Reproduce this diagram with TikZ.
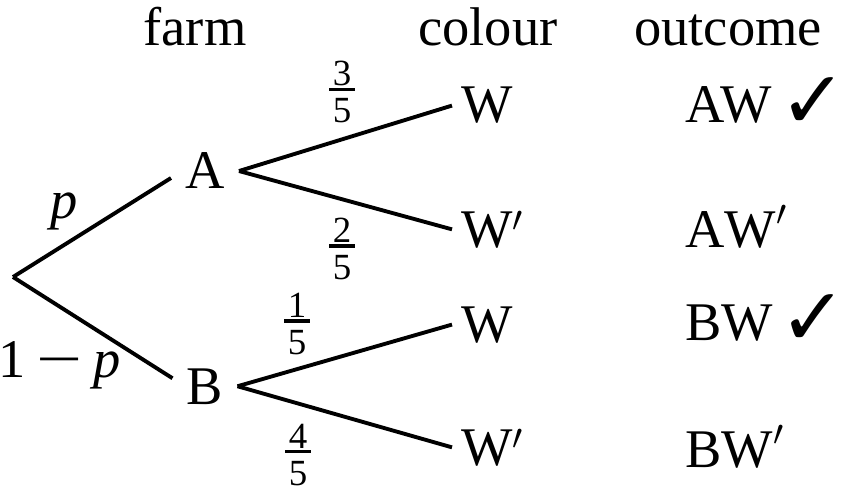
\documentclass[tikz,border=0pt]{standalone}
\usepackage{amsmath}
\usepackage{fontspec}
\setmainfont{Liberation Serif}
\newfontfamily\tickfont{DejaVu Sans}
\newcommand{\ok}{{\tickfont\fontsize{46}{46}\selectfont ✓}}
\newcommand{\fr}[2]{\fontsize{21}{21}\selectfont
  \vbox{\hbox to 0.52cm{\hss#1\hss}\kern0.8pt\hrule height1.8pt\kern4.2pt\hbox to 0.52cm{\hss#2\hss}}}

\begin{document}
\begin{tikzpicture}[x=0.02cm,y=-0.02cm,
    every node/.style={font=\fontsize{31}{37}\selectfont},
    branch/.style={line width=2.2pt},
    head/.style={anchor=base,inner sep=0pt},
    colnode/.style={anchor=base west,inner xsep=0.18cm,inner ysep=0pt},
    result/.style={anchor=base west,inner sep=0pt}]
    \useasboundingbox (0,0) rectangle (849,500);

    \node[head] (h1) at (195,46) {farm};
    \node[head] (h2) at (488,46) {colour};
    \node[head] (h3) at (728,46) {outcome};

    \coordinate (0) at (13,277);
    \node[anchor=base,inner xsep=0.28cm] (A) at (205,189) {A};
    \node[anchor=base,inner xsep=0.28cm] (B) at (205,404) {B};

    \node[colnode] (AW) at (452,123) {W};
    \node[colnode] (AV) at (452,247) {$\mathrm{W}'$};
    \node[colnode] (BW) at (452,342) {W};
    \node[colnode] (BV) at (452,465) {$\mathrm{W}'$};

    \node[result] (o1) at (685,123) {AW};
    \node[result] (o2) at (685,247) {$\mathrm{AW}'$};
    \node[result] (o3) at (685,340) {BW};
    \node[result] (o4) at (685,467) {$\mathrm{BW}'$};
    \node (t1) at (813,103) {\ok};
    \node (t3) at (813,320) {\ok};

    \draw[branch] (0) -- ([yshift=-0.14cm]A.west);
    \draw[branch] (0) -- ([yshift=0.16cm]B.west);
    \draw[branch] (A.east) -- (AW.west);
    \draw[branch] (A.east) -- (AV.west);
    \draw[branch] (B.east) -- (BW.west);
    \draw[branch] (B.east) -- (BV.west);

    \node (p1) at (64,211) {\textit{p}};
    \node (p2) at (60,365) {1\hspace{0.2em}\scalebox{1.5}[1]{−}\hspace{0.2em}\textit{p}};
    \node (f1) at (342,92) {\fr{3}{5}};
    \node (f2) at (342,249) {\fr{2}{5}};
    \node (f3) at (297,324) {\fr{1}{5}};
    \node (f4) at (298,455) {\fr{4}{5}};
\end{tikzpicture}
\end{document}
